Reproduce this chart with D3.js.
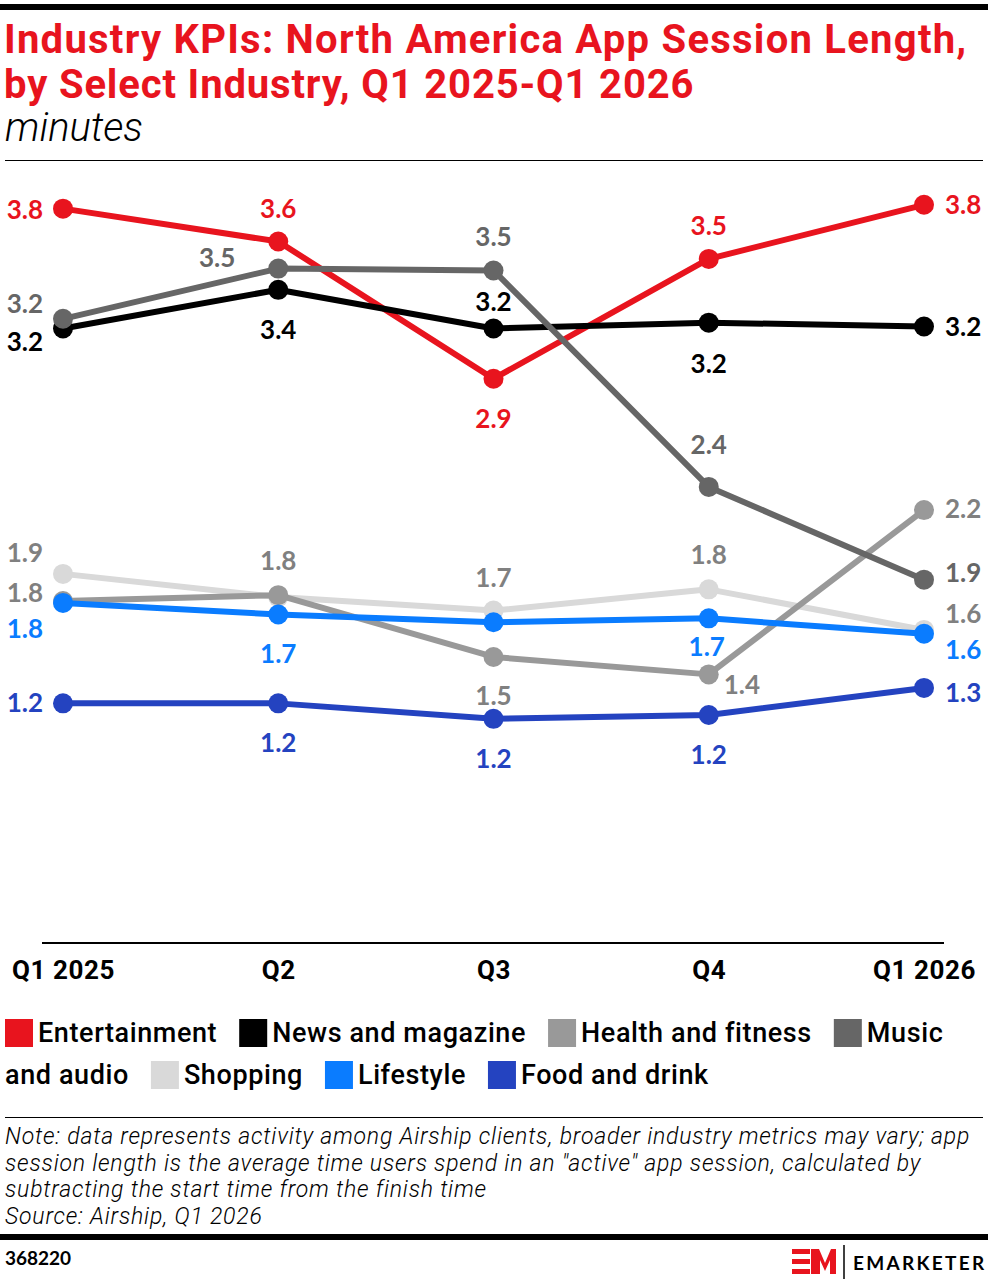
<!DOCTYPE html>
<html>
<head>
<meta charset="utf-8">
<script src="https://cdn.jsdelivr.net/npm/d3@7"></script>
<style>
  body { margin: 0; background: #fff; }
  svg { display: block; }
</style>
</head>
<body>
<div id="chart"></div>
<script>
// quarters on the x axis
const quarters = ["Q1 2025", "Q2", "Q3", "Q4", "Q1 2026"];

// minutes per session
const entertainment = [3.80, 3.63, 2.92, 3.54, 3.82];
const newsMagazine  = [3.18, 3.38, 3.18, 3.21, 3.19];
const healthFitness = [1.77, 1.80, 1.48, 1.39, 2.24];
const musicAudio    = [3.23, 3.49, 3.48, 2.36, 1.88];
const shopping      = [1.91, 1.79, 1.72, 1.83, 1.62];
const lifestyle     = [1.76, 1.70, 1.66, 1.68, 1.60];
const foodDrink     = [1.24, 1.24, 1.16, 1.18, 1.32];

const legendNames = ["Entertainment", "News and magazine", "Health and fitness", "Music and audio", "Shopping", "Lifestyle", "Food and drink"];

const W = 988, H = 1284;
const red = "#e8141e";

// label placement per point: [anchor, dx, dy] or null
const series = [
  { name: "Entertainment", values: entertainment, color: red, text: red,
    labels: [["end",-20,0],["middle",0,-34],["middle",0,39],["middle",0,-34],["start",21,-1]] },
  { name: "News and magazine", values: newsMagazine, color: "#000", text: "#000",
    labels: [["end",-20,13],["middle",0,39],["middle",0,-27],["middle",0,40],["start",21,-1]] },
  { name: "Shopping", values: shopping, color: "#d9d9d9", text: "#808080",
    labels: [["end",-20,-22],null,["middle",0,-34],["middle",0,-35],["start",21,-17]] },
  { name: "Health and fitness", values: healthFitness, color: "#999999", text: "#808080",
    labels: [["end",-20,-9],["middle",0,-35],["middle",0,38],["start",15,10],["start",21,-2]] },
  { name: "Music and audio", values: musicAudio, color: "#666666", text: "#666666",
    labels: [["end",-20,-16],["end",-43,-12],["middle",0,-34],["middle",0,-43],["start",21,-8]] },
  { name: "Lifestyle", values: lifestyle, color: "#0a7cff", text: "#0a7cff",
    labels: [["end",-20,25],["middle",0,39],null,["middle",-2,28],["start",21,15]] },
  { name: "Food and drink", values: foodDrink, color: "#2443c0", text: "#2443c0",
    labels: [["end",-20,-1],["middle",0,39],["middle",0,39],["middle",0,39],["start",21,4]] }
];

const svg = d3.select("#chart").append("svg")
  .attr("width", W).attr("height", H);

// header
svg.append("rect").attr("x", 0).attr("y", 4).attr("width", W).attr("height", 6).attr("fill", "#000");

const title = svg.append("g").attr("font-family", "Roboto").attr("font-weight", 700)
  .attr("font-size", 40).attr("fill", red);
title.append("text").attr("x", 4).attr("y", 53).attr("letter-spacing", 1.25)
  .text("Industry KPIs: North America App Session Length,");
title.append("text").attr("x", 4).attr("y", 98).attr("letter-spacing", 0.85)
  .text("by Select Industry, Q1 2025-Q1 2026");
svg.append("text").attr("x", 5).attr("y", 141).attr("font-family", "Roboto").attr("font-style", "italic")
  .attr("font-weight", 300).attr("font-size", 40).attr("fill", "#000").text("minutes");

svg.append("line").attr("x1", 5).attr("x2", 983).attr("y1", 160.5).attr("y2", 160.5)
  .attr("stroke", "#000").attr("stroke-width", 1);

// scales
const x = d3.scalePoint().domain(quarters).range([63, 924]);
const y = d3.scaleLinear().domain([0, 4]).range([943, 170]);

// x axis
const xAxis = svg.append("g").attr("transform", "translate(0,943)")
  .call(d3.axisBottom(x).tickSize(0).tickPadding(18));
xAxis.select(".domain").remove();
xAxis.selectAll("text").attr("font-family", "Roboto").attr("font-weight", 700)
  .attr("font-size", 26).attr("letter-spacing", 0.6).attr("fill", "#000");
svg.append("line").attr("x1", 42).attr("x2", 944).attr("y1", 943).attr("y2", 943)
  .attr("stroke", "#000").attr("stroke-width", 2);

// lines and dots
const line = d3.line().x((d, i) => x(quarters[i])).y(d => y(d));
const fmt = d3.format(".1f");

series.forEach(s => {
  const g = svg.append("g");
  g.append("path").datum(s.values).attr("d", line)
    .attr("fill", "none").attr("stroke", s.color).attr("stroke-width", 6)
    .attr("stroke-linejoin", "round");
  g.selectAll("circle").data(s.values).enter().append("circle")
    .attr("cx", (d, i) => x(quarters[i])).attr("cy", d => y(d)).attr("r", 10)
    .attr("fill", s.color);
});

// data labels on top
series.forEach(s => {
  const items = s.values.map((v, i) => ({ v, q: quarters[i], pos: s.labels[i] })).filter(d => d.pos);
  svg.append("g").selectAll("text").data(items).enter()
    .append("text")
    .attr("x", d => x(d.q) + d.pos[1])
    .attr("y", d => y(d.v) + d.pos[2])
    .attr("text-anchor", d => d.pos[0])
    .attr("dominant-baseline", "central")
    .attr("font-family", "Lato").attr("font-weight", 700).attr("font-size", 26)
    .attr("fill", s.text)
    .text(d => fmt(d.v));
});

// legend, flowing words onto a second row
const colorByName = {};
series.forEach(s => colorByName[s.name] = s.color);
const legend = svg.append("g").attr("font-family", "Roboto").attr("font-weight", 500)
  .attr("font-size", 27).attr("letter-spacing", 0.6).attr("fill", "#000");
let lx = 5, row = 0;
const rowY = [1033, 1075], maxX = 985;
const measure = t => {
  const tmp = legend.append("text").text(t);
  const w = tmp.node().getComputedTextLength();
  tmp.remove();
  return w;
};
legendNames.forEach(name => {
  if (lx + 34 + measure(name.split(" ")[0]) > maxX) { row++; lx = 5; }
  legend.append("rect").attr("x", lx).attr("y", rowY[row] - 14).attr("width", 28).attr("height", 28)
    .attr("fill", colorByName[name]);
  lx += 33;
  let chunk = [];
  name.split(" ").forEach(wd => {
    const tryText = chunk.concat(wd).join(" ");
    if (chunk.length && lx + measure(tryText) > maxX) {
      legend.append("text").attr("x", lx).attr("y", rowY[row]).attr("dominant-baseline", "central").text(chunk.join(" "));
      row++; lx = 5; chunk = [wd];
    } else chunk.push(wd);
  });
  const last = chunk.join(" ");
  legend.append("text").attr("x", lx).attr("y", rowY[row]).attr("dominant-baseline", "central").text(last);
  lx += measure(last) + 22;
});

// footer
svg.append("line").attr("x1", 5).attr("x2", 983).attr("y1", 1117.5).attr("y2", 1117.5)
  .attr("stroke", "#000").attr("stroke-width", 1);
const notes = [
  "Note: data represents activity among Airship clients, broader industry metrics may vary; app",
  "session length is the average time users spend in an \"active\" app session, calculated by",
  "subtracting the start time from the finish time",
  "Source: Airship, Q1 2026"
];
svg.append("g").selectAll("text").data(notes).enter().append("text")
  .attr("x", 5).attr("y", (d, i) => 1144 + i * 26.7)
  .attr("font-family", "Roboto").attr("font-style", "italic").attr("font-weight", 300)
  .attr("font-size", 23).attr("letter-spacing", 0.8).attr("fill", "#000").text(d => d);

svg.append("rect").attr("x", 0).attr("y", 1234).attr("width", W).attr("height", 6).attr("fill", "#000");
svg.append("text").attr("x", 5).attr("y", 1265).attr("font-family", "Lato").attr("font-weight", 700)
  .attr("font-size", 19).attr("fill", "#000").text("368220");

// logo
const logo = svg.append("g").attr("transform", "translate(792,1249)");
logo.append("rect").attr("x", 0).attr("y", 0).attr("width", 18).attr("height", 5).attr("fill", red);
logo.append("rect").attr("x", 0).attr("y", 10).attr("width", 18).attr("height", 5).attr("fill", red);
logo.append("rect").attr("x", 0).attr("y", 20).attr("width", 18).attr("height", 5).attr("fill", red);
logo.append("path").attr("d", "M19,25 L19,0 L27,0 L33,14 L39,0 L44,0 L44,25 L38,25 L38,11 L33,22 L28,11 L28,25 Z")
  .attr("fill", red);
logo.append("line").attr("x1", 52).attr("x2", 52).attr("y1", -4).attr("y2", 30)
  .attr("stroke", "#000").attr("stroke-width", 1.5);
logo.append("text").attr("x", 61).attr("y", 21).attr("font-family", "Lato").attr("font-weight", 700)
  .attr("font-size", 19).attr("letter-spacing", 2.3).attr("fill", "#000").text("EMARKETER");
</script>
</body>
</html>
